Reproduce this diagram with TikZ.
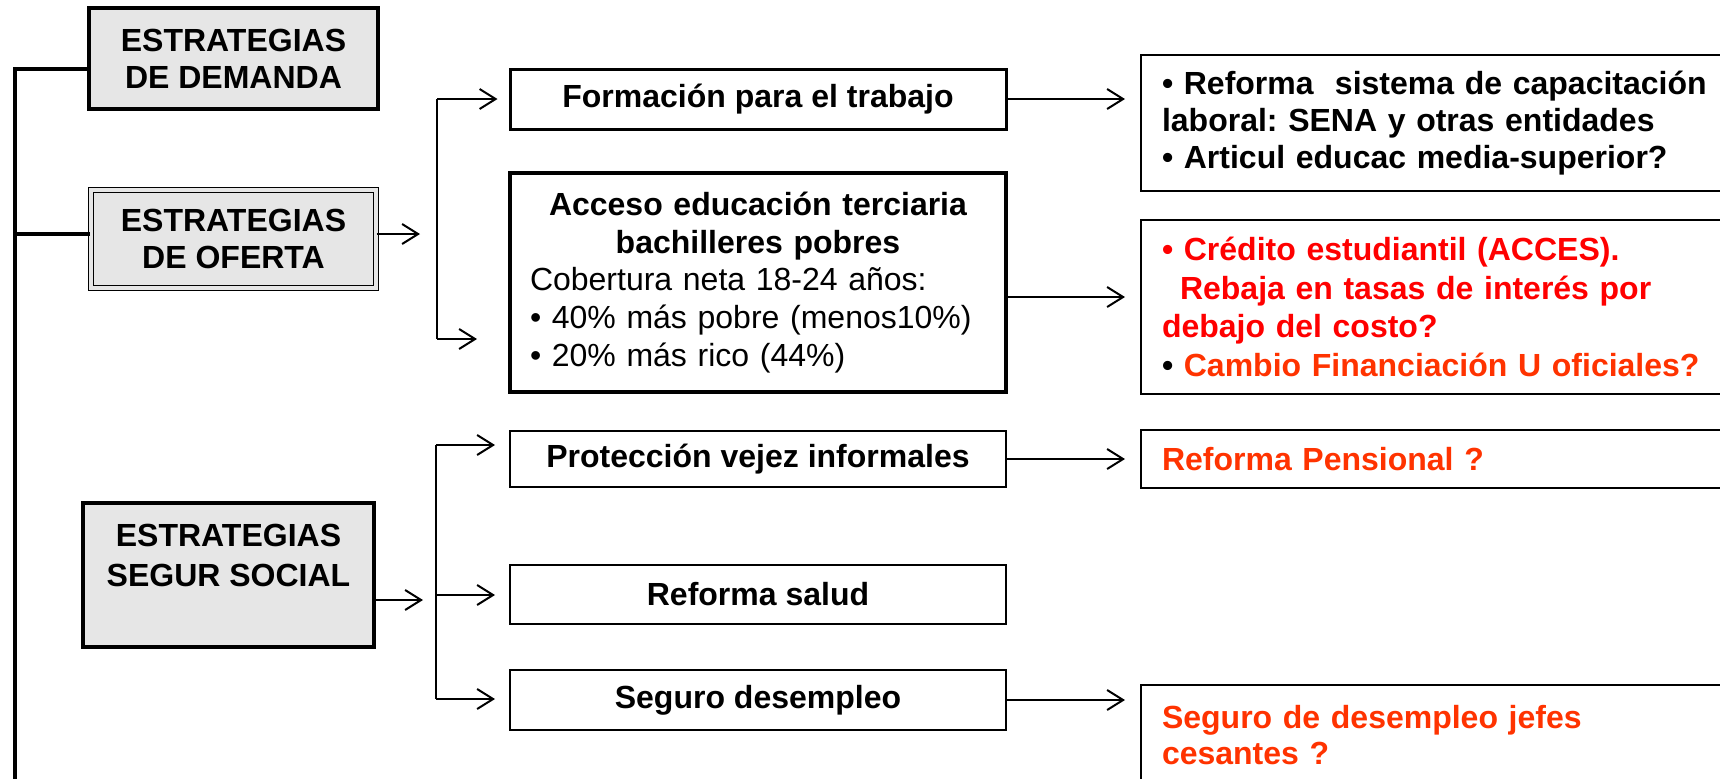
\documentclass[tikz,border=0pt]{standalone}
\usepackage{fontspec}
\setmainfont{Liberation Sans}
\usetikzlibrary{arrows.meta}
\definecolor{boxgray}{HTML}{E6E6E6}
\definecolor{redA}{HTML}{FF0000}
\definecolor{redB}{HTML}{FF3300}
\frenchspacing
\begin{document}
\begin{tikzpicture}[x=0.5pt,y=-0.5pt,
  base/.style={draw=black, rectangle, inner sep=0pt, align=center,
    font=\fontsize{16}{18.5}\selectfont\bfseries},
  strat/.style={base, fill=boxgray, line width=2pt, minimum width=144.5pt},
  midbox/.style={base, minimum width=248pt, line width=1pt},
  rightbox/.style={base, anchor=west, align=left, text width=280pt,
    inner xsep=10.5pt, inner ysep=0pt},
  arr/.style={line width=1pt, -{Straight Barb[length=8pt,width=10pt,line width=1pt]}},
  link/.style={line width=1pt},
  trunk/.style={line width=2.3pt}
]
\useasboundingbox (0,0) rectangle (1720,778);
\clip (0,0) rectangle (1720,778);
\fill[white] (0,0) rectangle (1720,778);

% left column
\node[strat, minimum height=50.5pt] (dem) at (233.5,58.5) {ESTRATEGIAS\\DE DEMANDA};
\node[base, fill=boxgray, line width=0.6pt, double=boxgray, double distance=1.6pt,
      minimum width=142.5pt, minimum height=49pt] (ofe) at (233.5,239) {ESTRATEGIAS\\DE OFERTA};
\node[strat, minimum width=145.5pt, minimum height=72pt,
      font=\fontsize{16}{20}\selectfont\bfseries] (seg) at (228.5,575) {ESTRATEGIAS\\SEGUR SOCIAL\\\mbox{}};

% middle column
\node[midbox, line width=1.5pt, minimum height=30pt] (form) at (758,99) {Formación para el trabajo};
\node[base, line width=2pt, minimum width=248pt, minimum height=109.5pt,
      text width=228pt, inner xsep=10pt, align=left,
      font=\fontsize{16}{18.9}\selectfont\bfseries] (acc) at (758,282.5)
  {{\centering Acceso educación terciaria\\bachilleres pobres\par}\mdseries
   Cobertura neta 18-24 años:\\• 40\% más pobre (menos10\%)\\• 20\% más rico (44\%)};
\node[midbox, minimum height=28pt] (prot) at (758,459) {Protección vejez informales};
\node[midbox, minimum height=29.5pt] (sal) at (758,594.5) {Reforma salud};
\node[midbox, minimum height=30pt] (des) at (758,700) {Seguro desempleo};

% right column
\node[rightbox, line width=1pt, minimum height=68pt,
      font=\fontsize{16}{18.3}\selectfont\bfseries] (ref) at (1140,123)
  {• Reforma~ sistema de capacitación\\laboral: SENA y otras entidades\\• Articul educac media-superior?};
\node[rightbox, line width=1pt, minimum height=87pt, text=redA,
      font=\fontsize{16}{19.2}\selectfont\bfseries] (cred) at (1140,307)
  {• Crédito estudiantil (ACCES).\\\hspace*{9pt}Rebaja en tasas de interés por\\debajo del costo?\\\textcolor{black}{•} \textcolor{redB}{Cambio Financiación U oficiales?}};
\node[rightbox, line width=1pt, minimum height=29pt, text=redB] (pen) at (1140,459) {Reforma Pensional ?};
\node[rightbox, line width=1pt, minimum height=50pt, text=redB,
      font=\fontsize{16}{18}\selectfont\bfseries] (jef) at (1140,735) {Seguro de desempleo jefes\\cesantes ?};

% trunk on the left
\coordinate (t1) at (15,69);
\coordinate (t2) at (15,234);
\coordinate (tb) at (15,790);
\draw[trunk] (t1 -| dem.west) -- (t1) -- (tb);
\draw[trunk] (t2) -- (t2 -| ofe.west);

% oferta branch
\coordinate (ofeTip) at (420,234);
\coordinate (b1top) at (437,99);
\coordinate (b1bot) at (437,339);
\draw[arr] (ofeTip -| ofe.east) -- (ofeTip);
\draw[link] (b1top) -- (b1bot);
\draw[arr, shorten >=5.5pt] (b1top) -- (b1top -| form.west);
\draw[arr, shorten >=15.5pt] (b1bot) -- (b1bot -| acc.west);

% segur social branch
\coordinate (segTip) at (423,600);
\coordinate (b2top) at (436,445);
\coordinate (b2mid) at (436,595);
\coordinate (b2bot) at (436,699);
\draw[arr] (segTip -| seg.east) -- (segTip);
\draw[link] (b2top) -- (b2bot);
\draw[arr, shorten >=7pt] (b2top) -- (b2top -| prot.west);
\draw[arr, shorten >=7pt] (b2mid) -- (b2mid -| sal.west);
\draw[arr, shorten >=7pt] (b2bot) -- (b2bot -| des.west);

% to the right column
\coordinate (ac) at (1006,297);
\draw[arr, shorten >=7.5pt] (form.east) -- (form.east -| ref.west);
\draw[arr, shorten >=7.5pt] (ac -| acc.east) -- (ac -| cred.west);
\draw[arr, shorten >=7.5pt] (prot.east) -- (prot.east -| pen.west);
\draw[arr, shorten >=7.5pt] (des.east) -- (des.east -| jef.west);
\end{tikzpicture}
\end{document}
